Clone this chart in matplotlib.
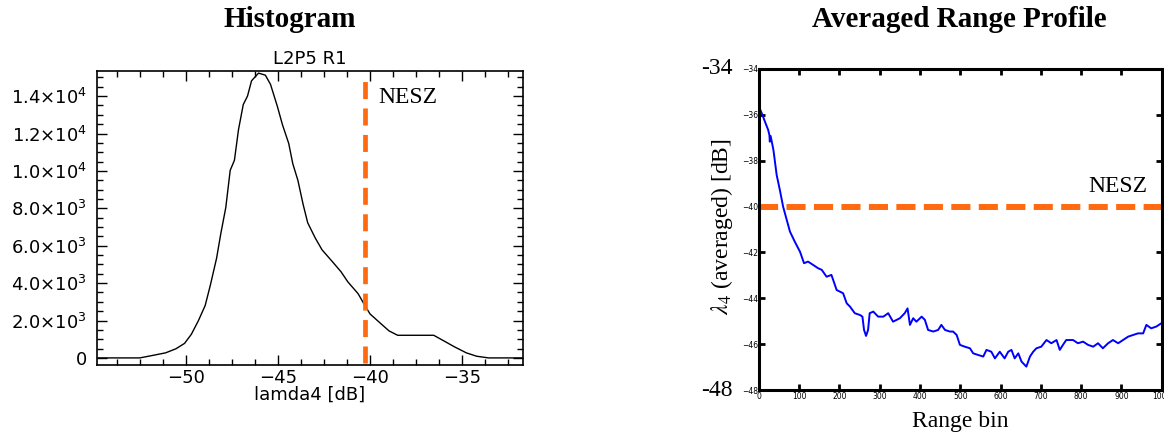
import numpy as np
import matplotlib
matplotlib.use("Agg")
import matplotlib.pyplot as plt
from matplotlib.ticker import MultipleLocator, AutoMinorLocator, FuncFormatter

# Histogram of lamda4
hist_db = [-54.85, -52.52, -51.86, -51.12, -50.56, -50.09, -49.72, -49.34, -48.97,
           -48.69, -48.35, -48.13, -47.85, -47.61, -47.38, -47.16, -46.90, -46.67,
           -46.45, -46.07, -45.70, -45.42, -45.05, -44.77, -44.43, -44.21, -43.93,
           -43.65, -43.40, -42.99, -42.62, -42.06, -41.59, -41.22, -40.66, -40.29,
           -40.01, -39.54, -38.98, -38.51, -37.67, -36.55, -35.99, -35.43, -34.78,
           -34.22, -33.57, -31.70]
hist_count = [0, 0, 126, 271, 488, 777, 1265, 1988, 2800,
              3885, 5330, 6595, 8040, 10030, 10570, 12200, 13550, 14000,
              14820, 15230, 15120, 14630, 13460, 12470, 11470, 10390, 9490,
              8220, 7230, 6415, 5780, 5150, 4610, 4070, 3435, 2800,
              2350, 1935, 1445, 1210, 1210, 1210, 905, 596, 271,
              90, 0, 0]
hist_nesz = -40.27

# Averaged range profile
range_bin = [0, 7, 15, 23, 26, 27, 29, 36, 44, 52, 60, 69, 77, 89, 102, 112, 122,
             135, 147, 156, 168, 180, 193, 209, 218, 226, 238, 251, 257, 261, 266,
             271, 275, 284, 296, 309, 321, 333, 350, 362, 369, 375, 383, 391, 404,
             412, 420, 433, 445, 453, 462, 474, 482, 491, 499, 511, 524, 532, 544,
             557, 565, 577, 586, 598, 610, 619, 627, 635, 644, 652, 664, 673, 681,
             689, 701, 714, 726, 739, 747, 755, 763, 780, 792, 805, 817, 830, 842,
             854, 867, 879, 892, 904, 917, 929, 941, 954, 962, 974, 987, 999]
profile_db = [-35.64, -35.93, -36.30, -36.66, -36.88, -37.17, -36.92, -37.53, -38.62,
              -39.28, -40.00, -40.58, -41.09, -41.53, -41.97, -42.47, -42.40, -42.55,
              -42.69, -42.76, -43.06, -42.98, -43.64, -43.78, -44.22, -44.36, -44.65,
              -44.73, -44.80, -45.38, -45.64, -45.38, -44.65, -44.58, -44.80, -44.80,
              -44.65, -45.02, -44.87, -44.65, -44.44, -45.16, -44.87, -45.02, -44.80,
              -44.94, -45.38, -45.45, -45.38, -45.16, -45.38, -45.45, -45.45, -45.60,
              -46.03, -46.11, -46.18, -46.40, -46.47, -46.54, -46.25, -46.33, -46.62,
              -46.33, -46.62, -46.33, -46.25, -46.62, -46.40, -46.76, -46.98, -46.54,
              -46.33, -46.18, -46.11, -45.82, -45.96, -45.82, -46.25, -46.03, -45.82,
              -45.82, -45.96, -45.89, -46.03, -46.11, -45.96, -46.18, -45.96, -45.82,
              -45.96, -45.82, -45.67, -45.60, -45.53, -45.53, -45.16, -45.31, -45.23,
              -45.09]
profile_nesz = -40.0

orange = '#ff6a10'
serif = 'Liberation Serif'

fig = plt.figure(figsize=(11.64, 4.41), dpi=100)

# ---- left: histogram ----
ax1 = fig.add_axes([0.0833, 0.1723, 0.366, 0.667])
ax1.plot(hist_db, hist_count, color='k', lw=1.0)
ax1.axvline(hist_nesz, ymin=0.008, ymax=0.983, color=orange, lw=3.4,
            dashes=(3.6, 2.0))
ax1.text(-39.57, 13900, 'NESZ', family=serif, fontsize=17, ha='left', va='center')
ax1.set_xlim(-54.85, -31.7)
ax1.set_ylim(-380, 15350)
ax1.xaxis.set_major_locator(MultipleLocator(5))
ax1.xaxis.set_minor_locator(AutoMinorLocator(4))
ax1.yaxis.set_major_locator(MultipleLocator(2000))
ax1.yaxis.set_minor_locator(AutoMinorLocator(4))


def sci_fmt(v, pos):
    if v == 0:
        return '0'
    e = int(np.floor(np.log10(abs(v))))
    return r'$%.1f{\times}10^{%d}$' % (v / 10 ** e, e)


ax1.yaxis.set_major_formatter(FuncFormatter(sci_fmt))
ax1.tick_params(which='both', direction='in', top=True, right=True, labelsize=13)
ax1.tick_params(which='major', length=7, width=1)
ax1.tick_params(which='minor', length=4, width=1)
ax1.tick_params(axis='y', pad=7)
ax1.tick_params(axis='x', pad=3)
for s in ax1.spines.values():
    s.set_linewidth(1.2)
ax1.set_xlabel('lamda4 [dB]', fontsize=13, labelpad=-1)
ax1.set_title('L2P5 R1', fontsize=13, pad=5)
fig.text(0.249, 0.955, 'Histogram', family=serif, fontweight='bold',
         fontsize=21, ha='center', va='center')

# ---- right: averaged range profile ----
ax2 = fig.add_axes([0.652, 0.1156, 0.346, 0.728])
ax2.plot(range_bin, profile_db, color='#0000ff', lw=1.4)
ax2.axhline(profile_nesz, color=orange, lw=4.3, dashes=(3.2, 1.4))
ax2.text(890, -39.13, 'NESZ', family=serif, fontsize=17, ha='center', va='center')
ax2.set_xlim(0, 1000)
ax2.set_ylim(-48, -34)
ax2.xaxis.set_major_locator(MultipleLocator(100))
ax2.yaxis.set_major_locator(MultipleLocator(2))
ax2.tick_params(direction='in', top=True, right=True, labelsize=5.5,
                length=4, width=2)
ax2.tick_params(axis='y', pad=0.5)
ax2.tick_params(axis='x', pad=1.5)
for s in ax2.spines.values():
    s.set_linewidth(2.2)
ax2.set_xlabel('Range bin', family=serif, fontsize=17)
ax2.xaxis.set_label_coords(0.5, -0.065)
ax2.set_ylabel(r'$\lambda_4$ (averaged) [dB]', family=serif, fontsize=17,
               math_fontfamily='stix')
ax2.yaxis.set_label_coords(-0.06, 0.51)
ax2.text(-0.065, 1.0, '-34', transform=ax2.transAxes, family=serif, fontsize=17,
         ha='right', va='center')
ax2.text(-0.065, 0.0, '-48', transform=ax2.transAxes, family=serif, fontsize=17,
         ha='right', va='center')
fig.text(0.824, 0.955, 'Averaged Range Profile', family=serif, fontweight='bold',
         fontsize=21, ha='center', va='center')

fig.savefig('out.png', dpi=100)
